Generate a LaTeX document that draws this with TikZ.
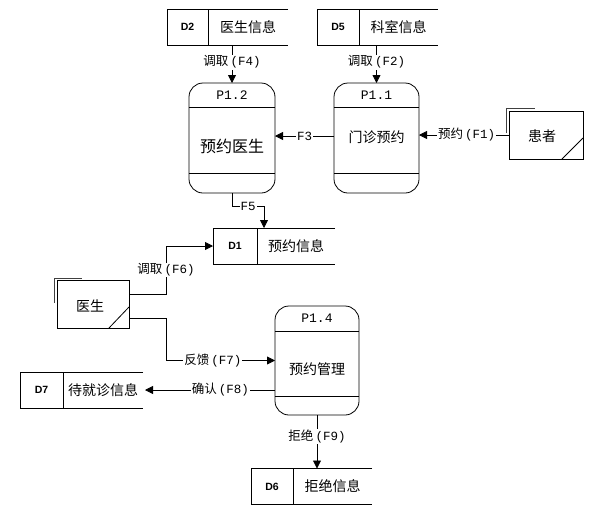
\documentclass[tikz,border=0pt]{standalone}
\usepackage{fontspec}
\setmainfont{Noto Sans CJK SC}
\newfontfamily\monof{Liberation Mono}
\newfontfamily\idfont{Liberation Sans}
\usetikzlibrary{arrows.meta,calc}
\newcommand\lab[2]{#1\,{\monof #2}}
\newcommand\dstore[7]{%
  \node[storebox, minimum width=#4pt] (#1) at (#2,#3) {};
  \draw (#1.north east) -- (#1.north west) -- (#1.south west) -- (#1.south east);
  \coordinate (#1-d) at ($(#1.west)+(#5,0)$);
  \draw ($(#1.north west)+(#5,0)$) -- ($(#1.south west)+(#5,0)$);
  \node[idtxt] (#1-id) at ($(#1.west)!0.5!(#1-d)$) {#6};
  \node[nametxt] (#1-name) at ($(#1-d)!0.5!(#1.east)$) {#7};
}
\begin{document}
\begin{tikzpicture}[x=1pt,y=-1pt,line width=0.8pt,
  storebox/.style={minimum height=36pt, inner sep=0pt, outer sep=0pt},
  procbox/.style={draw, rounded corners=14pt, inner sep=0pt, outer sep=0pt},
  entbox/.style={draw, minimum width=74pt, minimum height=48pt, inner sep=0pt, outer sep=0pt},
  shadowline/.style={black!75},
  flow/.style={-{Triangle[length=8pt,width=8pt]}},
  lbl/.style={fill=white, inner sep=1pt, font=\fontsize{12.5}{14}\selectfont},
  idtxt/.style={font=\idfont\bfseries\fontsize{10.5}{12}\selectfont, inner sep=0pt},
  nametxt/.style={font=\fontsize{14}{16}\selectfont, inner sep=0pt},
  ptxt/.style={font=\monof\fontsize{13}{15}\selectfont, inner sep=0pt}]
\useasboundingbox (0,0) rectangle (595,515);

% data stores
\dstore{d2}{227.5}{27}{121}{41}{D2}{医生信息}
\dstore{d5}{377.5}{27}{121}{42}{D5}{科室信息}
\dstore{d1}{274}{246}{122}{44}{D1}{预约信息}
\dstore{d7}{81.5}{390}{123}{43}{D7}{待就诊信息}
\dstore{d6}{311.5}{486.5}{121}{42}{D6}{拒绝信息}

% processes
\node[procbox, minimum width=86pt, minimum height=110pt] (p12) at (232,138) {};
\draw ($(p12.north west)+(0,24)$) -- ($(p12.north east)+(0,24)$);
\draw ($(p12.south west)+(0,-20)$) -- ($(p12.south east)+(0,-20)$);
\node[ptxt] (p12-id) at ($(p12.north)+(0,12)$) {P1.2};
\node[nametxt, font=\fontsize{16}{18}\selectfont] (p12-name) at ($(p12.center)+(0,8)$) {预约医生};

\node[procbox, minimum width=85pt, minimum height=110pt] (p11) at (376.5,138) {};
\draw ($(p11.north west)+(0,24)$) -- ($(p11.north east)+(0,24)$);
\draw ($(p11.south west)+(0,-20)$) -- ($(p11.south east)+(0,-20)$);
\node[ptxt] (p11-id) at ($(p11.north)+(0,12)$) {P1.1};
\node[nametxt] (p11-name) at ($(p11.center)+(0,-1)$) {门诊预约};

\node[procbox, minimum width=84pt, minimum height=109pt] (p14) at (317,360.5) {};
\draw ($(p14.north west)+(0,25)$) -- ($(p14.north east)+(0,25)$);
\draw ($(p14.south west)+(0,-19)$) -- ($(p14.south east)+(0,-19)$);
\node[ptxt] (p14-id) at ($(p14.north)+(0,12)$) {P1.4};
\node[nametxt] (p14-name) at ($(p14.center)+(0,8.5)$) {预约管理};

% external entities
\node[entbox] (pat) at (546,135) {};
\draw[shadowline] ($(pat.north west)+(-3,22)$) -- ($(pat.north west)+(-3,-3)$) -- ($(pat.north west)+(26,-3)$);
\draw ($(pat.south east)+(-21,0)$) -- ($(pat.south east)+(0,-21)$);
\node[nametxt] (pat-name) at ($(pat.center)+(-4,1)$) {患者};

\node[entbox, minimum width=72pt] (doc) at (93,304) {};
\draw[shadowline] ($(doc.north west)+(-3,23)$) -- ($(doc.north west)+(-3,-2)$) -- ($(doc.north west)+(25,-2)$);
\draw ($(doc.south east)+(-20,0)$) -- ($(doc.south east)+(0,-21)$);
\node[nametxt] (doc-name) at ($(doc.center)+(-3,2)$) {医生};

% flows
\draw[flow] (p12.north |- d2.south) -- node[lbl,pos=0.45] (f4) {\lab{调取}{(F4)}} (p12.north);
\draw[flow] (p11.north |- d5.south) -- node[lbl,pos=0.45] (f2) {\lab{调取}{(F2)}} (p11.north);
\draw[flow] ($(p11.west)+(0,-2)$) -- node[lbl] (f3) {\monof F3} ($(p12.east)+(0,-2)$);
\draw[flow] (pat.west) -- node[lbl,pos=0.47] (f1) {\lab{预约}{(F1)}} (pat.west -| p11.east);
\draw[flow] (p12.south) -- ++(0,13) -| node[lbl,pos=0.25] (f5) {\monof F5} ($(d1.north)+(-10,0)$);
\draw[flow] ($(doc.east)+(0,-10)$) -| node[lbl,pos=0.75] (f6) {\lab{调取}{(F6)}} ($(d1.west)+(-47,0)$) -- (d1.west);
\draw[flow] ($(doc.east)+(0,14)$) -| ($(p14.west)+(-109,0)$) -- node[lbl,pos=0.43] (f7) {\lab{反馈}{(F7)}} (p14.west);
\draw[flow] (p14.west |- d7.east) -- node[lbl,pos=0.42] (f8) {\lab{确认}{(F8)}} ($(d7.east)+(2,0)$);
\draw[flow] (p14.south) -- node[lbl,pos=0.4] (f9) {\lab{拒绝}{(F9)}} (p14.south |- d6.north);
\end{tikzpicture}
\end{document}
